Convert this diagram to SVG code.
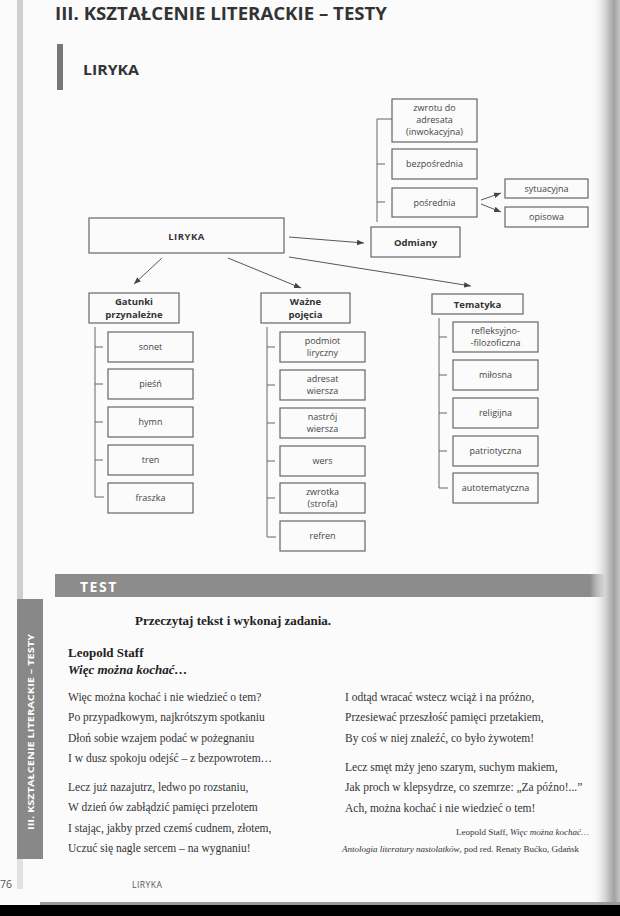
<svg xmlns="http://www.w3.org/2000/svg" width="620" height="916" viewBox="0 0 620 916">
<defs>
<style>
.box{fill:none;stroke:#666;stroke-width:1.2}
.t{font-family:"Open Sans","DejaVu Sans",sans-serif;font-size:9px;fill:#444;text-anchor:middle}
.b{font-family:"Open Sans","DejaVu Sans",sans-serif;font-size:9.5px;font-weight:bold;fill:#333;text-anchor:middle}
.ln{fill:none;stroke:#666;stroke-width:1}
.ar{fill:none;stroke:#444;stroke-width:0.9;marker-end:url(#ah)}
.p{font-family:"Liberation Serif","Times New Roman",serif;font-size:11.5px;fill:#333}
</style>
<marker id="ah" viewBox="0 0 10 10" refX="10" refY="5" markerWidth="7" markerHeight="7" orient="auto" markerUnits="userSpaceOnUse">
<path d="M0,1 L10,5 L0,9 Z" fill="#444"/>
</marker>
<linearGradient id="sh" x1="0" y1="0" x2="1" y2="0">
<stop offset="0" stop-color="#ffffff" stop-opacity="0"/>
<stop offset="0.5" stop-color="#d6d6d6"/>
<stop offset="0.8" stop-color="#a2a2a2"/>
<stop offset="1" stop-color="#c4c4c4"/>
</linearGradient>
</defs>
<rect x="0" y="0" width="620" height="916" fill="#fbfbfb"/>
<rect x="17" y="0" width="6" height="600" fill="#cfcfcf"/>
<rect x="17" y="859" width="6" height="30" fill="#e2e2e2"/>
<g id="header">
<text x="55" y="20" font-family="'Open Sans','DejaVu Sans',sans-serif" font-size="18" font-weight="bold" fill="#333" textLength="332" lengthAdjust="spacingAndGlyphs">III. KSZTAŁCENIE LITERACKIE – TESTY</text>
<rect x="57" y="44" width="6" height="46" fill="#777"/>
<text x="83" y="75" font-family="'Open Sans','DejaVu Sans',sans-serif" font-size="15" font-weight="bold" fill="#333" textLength="56" lengthAdjust="spacingAndGlyphs">LIRYKA</text>
</g>
<g id="connectors">
<polyline class="ln" points="392,119 377,119 377,222"/>
<line class="ln" x1="377" y1="164" x2="385" y2="164"/>
<line class="ln" x1="377" y1="202" x2="385" y2="202"/>
<polyline class="ln" points="95,327 95,497 104,497"/>
<line class="ln" x1="95" y1="347" x2="103" y2="347"/>
<line class="ln" x1="95" y1="384" x2="103" y2="384"/>
<line class="ln" x1="95" y1="422" x2="103" y2="422"/>
<line class="ln" x1="95" y1="460" x2="103" y2="460"/>
<polyline class="ln" points="267,327 267,537 276,537"/>
<line class="ln" x1="267" y1="347" x2="275" y2="347"/>
<line class="ln" x1="267" y1="385" x2="275" y2="385"/>
<line class="ln" x1="267" y1="423" x2="275" y2="423"/>
<line class="ln" x1="267" y1="461" x2="275" y2="461"/>
<line class="ln" x1="267" y1="498" x2="275" y2="498"/>
<polyline class="ln" points="439,318 439,488 448,488"/>
<line class="ln" x1="439" y1="337" x2="447" y2="337"/>
<line class="ln" x1="439" y1="375" x2="447" y2="375"/>
<line class="ln" x1="439" y1="413" x2="447" y2="413"/>
<line class="ln" x1="439" y1="451" x2="447" y2="451"/>
<line class="ar" x1="289" y1="237" x2="364" y2="243"/>
<line class="ar" x1="289" y1="257" x2="471" y2="286"/>
<line class="ar" x1="162" y1="258" x2="134" y2="284"/>
<line class="ar" x1="228" y1="258" x2="301" y2="288"/>
<line class="ar" x1="481" y1="200" x2="501" y2="193"/>
<line class="ar" x1="481" y1="204" x2="501" y2="212"/>
</g>
<g id="n-liryka"><rect class="box" x="89" y="218" width="195" height="35"/><text class="b" x="186.5" y="240" font-size="11.5" letter-spacing="0.5">LIRYKA</text></g>
<g id="n-odmiany"><rect class="box" x="371" y="227" width="89" height="30"/><text class="b" x="415.5" y="245.5">Odmiany</text></g>
<g id="n-zwrotu"><rect class="box" x="392" y="99" width="85" height="43"/><text class="t" x="434.5" y="110.5">zwrotu do</text><text class="t" x="434.5" y="122.5">adresata</text><text class="t" x="434.5" y="134.5">(inwokacyjna)</text></g>
<g id="n-bezposrednia"><rect class="box" x="392" y="149" width="85" height="30"/><text class="t" x="434.5" y="167">bezpośrednia</text></g>
<g id="n-posrednia"><rect class="box" x="392" y="188" width="85" height="29"/><text class="t" x="434.5" y="205.5">pośrednia</text></g>
<g id="n-sytuacyjna"><rect class="box" x="505" y="179" width="83" height="19"/><text class="t" x="546.5" y="191.5">sytuacyjna</text></g>
<g id="n-opisowa"><rect class="box" x="505" y="207" width="83" height="20"/><text class="t" x="546.5" y="220">opisowa</text></g>
<g id="n-gatunki"><rect class="box" x="89" y="293" width="90" height="30"/><text class="b" x="134" y="304.5">Gatunki</text><text class="b" x="134" y="317.5">przynależne</text></g>
<g id="n-wazne"><rect class="box" x="261" y="293" width="89" height="30"/><text class="b" x="305.5" y="304.5">Ważne</text><text class="b" x="305.5" y="317.5">pojęcia</text></g>
<g id="n-tematyka"><rect class="box" x="432" y="294" width="91" height="20"/><text class="b" x="477.5" y="307.5">Tematyka</text></g>
<g id="n-sonet"><rect class="box" x="108" y="332" width="85" height="30"/><text class="t" x="150.5" y="350">sonet</text></g>
<g id="n-piesn"><rect class="box" x="108" y="369" width="85" height="30"/><text class="t" x="150.5" y="387">pieśń</text></g>
<g id="n-hymn"><rect class="box" x="108" y="407" width="85" height="30"/><text class="t" x="150.5" y="425">hymn</text></g>
<g id="n-tren"><rect class="box" x="108" y="445" width="85" height="30"/><text class="t" x="150.5" y="463">tren</text></g>
<g id="n-fraszka"><rect class="box" x="108" y="483" width="85" height="30"/><text class="t" x="150.5" y="501">fraszka</text></g>
<g id="n-podmiot"><rect class="box" x="280" y="332" width="85" height="30"/><text class="t" x="322.5" y="343.5">podmiot</text><text class="t" x="322.5" y="356">liryczny</text></g>
<g id="n-adresat"><rect class="box" x="280" y="370" width="85" height="30"/><text class="t" x="322.5" y="381.5">adresat</text><text class="t" x="322.5" y="394">wiersza</text></g>
<g id="n-nastroj"><rect class="box" x="280" y="408" width="85" height="30"/><text class="t" x="322.5" y="419.5">nastrój</text><text class="t" x="322.5" y="432">wiersza</text></g>
<g id="n-wers"><rect class="box" x="280" y="446" width="85" height="30"/><text class="t" x="322.5" y="464">wers</text></g>
<g id="n-zwrotka"><rect class="box" x="280" y="483" width="85" height="30"/><text class="t" x="322.5" y="494.5">zwrotka</text><text class="t" x="322.5" y="507">(strofa)</text></g>
<g id="n-refren"><rect class="box" x="280" y="521" width="85" height="30"/><text class="t" x="322.5" y="539">refren</text></g>
<g id="n-refleksyjno"><rect class="box" x="453" y="322" width="85" height="30"/><text class="t" x="495.5" y="333.5">refleksyjno-</text><text class="t" x="495.5" y="346">-filozoficzna</text></g>
<g id="n-milosna"><rect class="box" x="453" y="360" width="85" height="30"/><text class="t" x="495.5" y="378">miłosna</text></g>
<g id="n-religijna"><rect class="box" x="453" y="398" width="85" height="30"/><text class="t" x="495.5" y="416">religijna</text></g>
<g id="n-patriotyczna"><rect class="box" x="453" y="436" width="85" height="30"/><text class="t" x="495.5" y="454">patriotyczna</text></g>
<g id="n-autotematyczna"><rect class="box" x="453" y="473" width="85" height="30"/><text class="t" x="495.5" y="491">autotematyczna</text></g>
<g id="test">
<rect x="55" y="574" width="560" height="23" fill="#8c8c8c"/>
<text x="80" y="592" font-family="'Open Sans','DejaVu Sans',sans-serif" font-size="14" font-weight="bold" fill="#fff" letter-spacing="1.5">TEST</text>
<rect x="17" y="599" width="26" height="260" fill="#888"/>
<text transform="translate(34,830) rotate(-90)" font-family="'Open Sans','DejaVu Sans',sans-serif" font-size="9.5" font-weight="bold" fill="#fff" textLength="196" lengthAdjust="spacingAndGlyphs">III. KSZTAŁCENIE LITERACKIE – TESTY</text>
<text x="135" y="625" font-family="'Liberation Serif','Times New Roman',serif" font-size="13" font-weight="bold" fill="#222">Przeczytaj tekst i wykonaj zadania.</text>
<text x="68" y="657" font-family="'Liberation Serif','Times New Roman',serif" font-size="13" font-weight="bold" fill="#222">Leopold Staff</text>
<text x="68" y="674" font-family="'Liberation Serif','Times New Roman',serif" font-size="13" font-weight="bold" font-style="italic" fill="#222">Więc można kochać…</text>
<text class="p" x="68" y="701">Więc można kochać i nie wiedzieć o tem?</text>
<text class="p" x="68" y="721">Po przypadkowym, najkrótszym spotkaniu</text>
<text class="p" x="68" y="742">Dłoń sobie wzajem podać w pożegnaniu</text>
<text class="p" x="68" y="762">I w dusz spokoju odejść – z bezpowrotem…</text>
<text class="p" x="68" y="791">Lecz już nazajutrz, ledwo po rozstaniu,</text>
<text class="p" x="68" y="811">W dzień ów zabłądzić pamięci przelotem</text>
<text class="p" x="68" y="832">I stając, jakby przed czemś cudnem, złotem,</text>
<text class="p" x="68" y="852">Uczuć się nagle sercem – na wygnaniu!</text>
<text class="p" x="345" y="701">I odtąd wracać wstecz wciąż i na próżno,</text>
<text class="p" x="345" y="721">Przesiewać przeszłość pamięci przetakiem,</text>
<text class="p" x="345" y="742">By coś w niej znaleźć, co było żywotem!</text>
<text class="p" x="345" y="771">Lecz smęt mży jeno szarym, suchym makiem,</text>
<text class="p" x="345" y="791">Jak proch w klepsydrze, co szemrze: „Za późno!...”</text>
<text class="p" x="345" y="812">Ach, można kochać i nie wiedzieć o tem!</text>
<text x="456" y="835" font-family="'Liberation Serif','Times New Roman',serif" font-size="9" fill="#333">Leopold Staff, <tspan font-style="italic">Więc można kochać…</tspan></text>
<text x="342" y="852" font-family="'Liberation Serif','Times New Roman',serif" font-size="9" fill="#333"><tspan font-style="italic">Antologia literatury nastolatków</tspan>, pod red. Renaty Bućko, Gdańsk</text>
</g>
<g id="footer">
<text x="0" y="888" font-family="'Open Sans','DejaVu Sans',sans-serif" font-size="10.5" fill="#555">76</text>
<text x="132" y="888" font-family="'Open Sans','DejaVu Sans',sans-serif" font-size="8.5" fill="#555" letter-spacing="0.5">LIRYKA</text>
</g>
<rect x="590" y="0" width="30" height="905" fill="url(#sh)"/>
<rect x="40" y="902" width="580" height="3" fill="#999"/>
<rect x="0" y="905" width="620" height="11" fill="#000"/>
</svg>
